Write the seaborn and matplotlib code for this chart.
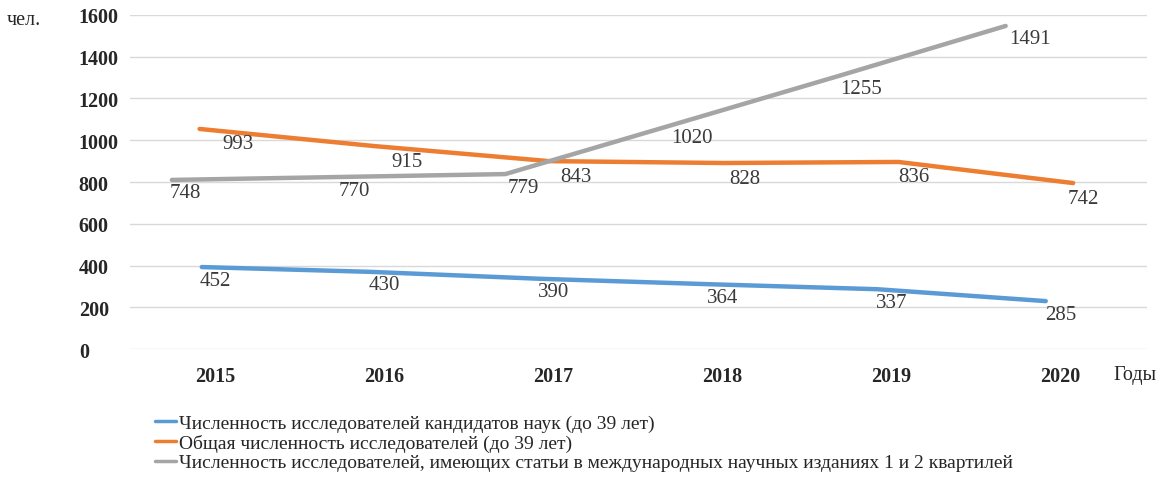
import pandas as pd
import matplotlib.pyplot as plt
import numpy as np
import seaborn as sns

years = ['2015', '2016', '2017', '2018', '2019', '2020']
series = ['Численность исследователей кандидатов наук (до 39 лет)',
          'Общая численность исследователей (до 39 лет)',
          'Численность исследователей, имеющих статьи в международных научных изданиях 1 и 2 квартилей']

# heights of the lines as they are drawn in the picture
cand_line = [393, 370, 337, 311, 287, 230]
total_line = [1054, 972, 900, 891, 896, 795]
pub_line = [810, 824, 838, 1073, 1308, 1547]

# numbers printed next to the lines
cand_lab = [452, 430, 390, 364, 337, 285]
total_lab = [993, 915, 843, 828, 836, 742]
pub_lab = [748, 770, 779, 1020, 1255, 1491]

colors = ['#5B9BD5', '#ED7D31', '#A5A5A5']
# (x shift, x step) of each line in category units, label offset in pixels
x_shift = [-0.077, -0.09, -0.254]
x_step = [0.998, 1.033, 0.986]
lab_off = [(0, -13), (23, -15), (-30, -13)]

lines = [cand_line, total_line, pub_line]
labs = [cand_lab, total_lab, pub_lab]

rows = []
for s, name in enumerate(series):
    for i in range(len(years)):
        rows.append({'x': x_shift[s] + i * x_step[s], 'value': lines[s][i], 'series': name})
df = pd.DataFrame(rows)

sns.set_style('white')
plt.rcParams['font.family'] = ['Liberation Serif', 'DejaVu Serif']

fig = plt.figure(figsize=(11.63, 4.81), dpi=100)
ax = fig.add_axes([0.112, 0.272, 0.874, 0.695])

sns.lineplot(data=df, x='x', y='value', hue='series', hue_order=series,
             palette=colors, linewidth=3.2, ax=ax)

for s in range(3):
    for i in range(len(years)):
        ax.annotate(str(labs[s][i]), (i, lines[s][i]), xytext=lab_off[s],
                    textcoords='offset pixels', ha='center', va='center',
                    fontsize=15, color='#3a3a3a')

ax.set_xlim(-0.5, 5.51)
ax.set_ylim(0, 1600)
ax.set_yticks(np.arange(0, 1601, 200))
ax.set_xticks(range(len(years)))
ax.set_xticklabels(years, fontweight='bold', fontsize=14.5)
ax.set_yticklabels([str(v) for v in range(0, 1601, 200)], fontweight='bold', fontsize=14.5, ha='left')
ax.tick_params(axis='y', length=0, pad=37)
ax.tick_params(axis='x', length=0, pad=12)
ax.set_xlabel('')
ax.set_ylabel('')
ax.grid(axis='y', color='#d9d9d9', linewidth=1)
ax.set_axisbelow(True)
sns.despine(ax=ax, left=True, bottom=True)

fig.text(0.006, 0.958, 'чел.', fontsize=14.5, va='center', ha='left')
fig.text(0.957, 0.219, 'Годы', fontsize=14.5, va='center', ha='left')

sns.move_legend(ax, 'upper left', bbox_to_anchor=(0.133, 0.137), bbox_transform=fig.transFigure,
                title=None, frameon=False, fontsize=14, handlelength=1.1, handletextpad=0.15,
                labelspacing=0.1, borderaxespad=0, borderpad=0)
for h in ax.get_legend().get_lines():
    h.set_linewidth(2.5)

fig.savefig('out.png', dpi=100)
